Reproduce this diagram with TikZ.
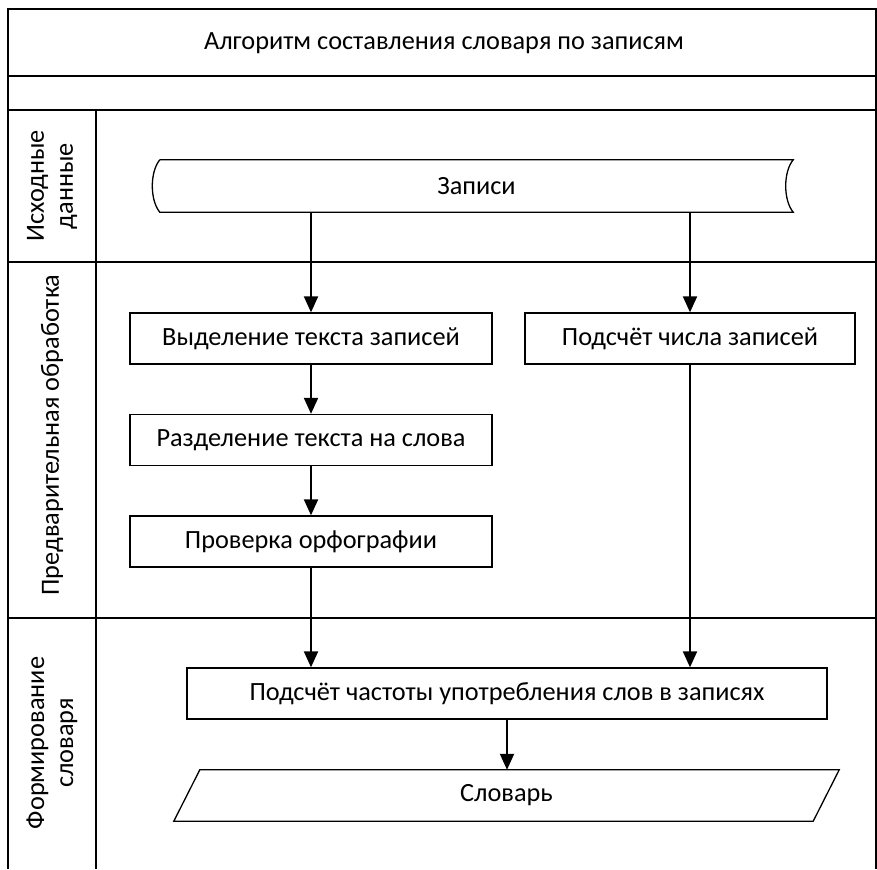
\documentclass[tikz,border=0pt]{standalone}
\usepackage{fontspec}
\setmainfont{Carlito}
\usetikzlibrary{arrows.meta}
\begin{document}
\begin{tikzpicture}[x=1pt,y=-1pt,
  frame/.style={line width=1.5pt},
  txt/.style={font=\fontsize{26.3}{29}\selectfont},
  proc/.style={txt,draw,line width=1.3pt,minimum height=51pt,inner sep=0pt},
  flow/.style={line width=2pt,-{Triangle[width=14pt,length=16pt]}},
  lane/.style={txt,rotate=90,align=center},
]
\useasboundingbox (0,0) rectangle (877,869);
% frame
\draw[frame] (8,869) -- (8,9) -- (876,9) -- (876,869);
\draw[frame] (8,76) -- (876,76);
\draw[frame] (8,110) -- (876,110);
\draw[frame] (8,262) -- (876,262);
\draw[frame] (8,618) -- (876,618);
\draw[frame] (96,110) -- (96,869);
% title
\node[txt] (title) at (444,43) {Алгоритм составления словаря по записям};
% lane labels
\node[lane] (l1) at (52,186) {Исходные\\данные};
\node[lane] (l2) at (52,435) {Предварительная обработка};
\node[lane] (l3) at (52,743) {Формирование\\словаря};
% stored data
\node[txt,minimum width=633pt,minimum height=52pt,inner sep=0pt] (zap) at (476.5,186) {Записи};
\draw[line width=1.3pt] (zap.north west) -- (zap.north east)
  .. controls ([xshift=-10pt,yshift=-12pt]zap.north east) and ([xshift=-10pt,yshift=12pt]zap.south east) .. (zap.south east)
  -- (zap.south west)
  .. controls ([xshift=-10pt,yshift=12pt]zap.south west) and ([xshift=-10pt,yshift=-12pt]zap.north west) .. (zap.north west);
% processes
\node[proc,minimum width=362pt] (vyd) at (311,338.5) {Выделение текста записей};
\node[proc,minimum width=330pt] (cnt) at (690,338.5) {Подсчёт числа записей};
\node[proc,minimum width=362pt] (razd) at (311,440) {Разделение текста на слова};
\node[proc,minimum width=362pt] (prov) at (311,541.5) {Проверка орфографии};
\node[proc,minimum width=640pt] (fin) at (507,693.5) {Подсчёт частоты употребления слов в записях};
% output parallelogram
\node[txt,minimum width=639pt,minimum height=51pt,inner sep=0pt] (dict) at (506.5,795.5) {Словарь};
\draw[line width=1.3pt] ([xshift=13pt]dict.north west) -- ([xshift=13pt]dict.north east)
  -- ([xshift=-13pt]dict.south east) -- ([xshift=-13pt]dict.south west) -- cycle;
% arrows
\draw[flow] (zap.south -| vyd.north) -- (vyd.north);
\draw[flow] (zap.south -| cnt.north) -- (cnt.north);
\draw[flow] (vyd.south) -- (razd.north);
\draw[flow] (razd.south) -- (prov.north);
\draw[flow] (prov.south) -- (prov.south |- fin.north);
\draw[flow] (cnt.south) -- (cnt.south |- fin.north);
\draw[flow] (fin.south) -- (fin.south |- dict.north);
\end{tikzpicture}
\end{document}
